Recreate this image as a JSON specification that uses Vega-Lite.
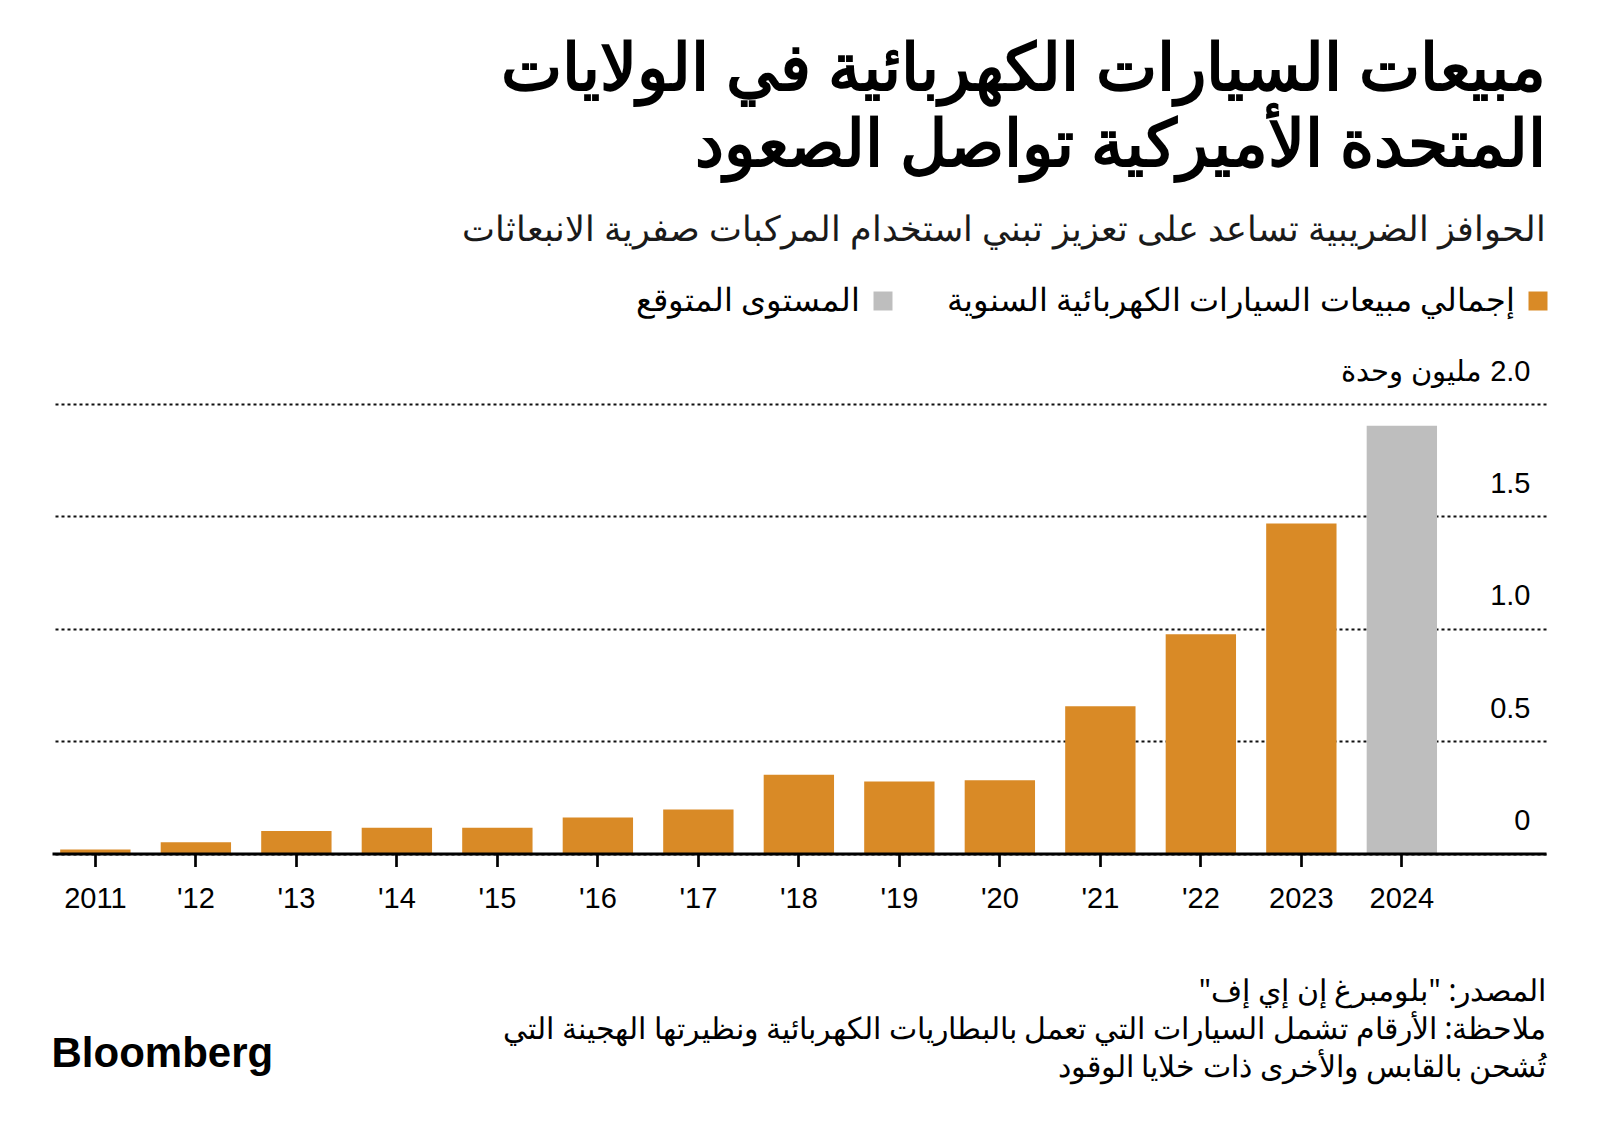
{
  "$schema": "https://vega.github.io/schema/vega-lite/v6.json",
  "width": 1494,
  "height": 449.5,
  "autosize": {"type": "none"},
  "padding": {"left": 52, "top": 404, "right": 54, "bottom": 280.5},
  "background": "white",
  "title": {
    "text": ["\u200Fمبيعات السيارات الكهربائية في الولايات\u200F", "\u200Fالمتحدة الأميركية تواصل الصعود\u200F"],
    "subtitle": "\u200Fالحوافز الضريبية تساعد على تعزيز تبني استخدام المركبات صفرية الانبعاثات\u200F",
    "anchor": "end",
    "align": "right",
    "frame": "group",
    "orient": "top",
    "font": "Noto Sans",
    "fontSize": 65,
    "fontWeight": "bold",
    "lineHeight": 76,
    "color": "#000000",
    "subtitleFont": "Noto Sans",
    "subtitleFontSize": 35,
    "subtitleColor": "#1a1a1a",
    "subtitlePadding": 33,
    "subtitleLineHeight": 40,
    "offset": 36
  },
  "data": {
    "values": [
      {"year": "2011", "sales": 0.018, "type": "إجمالي مبيعات السيارات الكهربائية السنوية"},
      {"year": "'12", "sales": 0.05, "type": "إجمالي مبيعات السيارات الكهربائية السنوية"},
      {"year": "'13", "sales": 0.1, "type": "إجمالي مبيعات السيارات الكهربائية السنوية"},
      {"year": "'14", "sales": 0.115, "type": "إجمالي مبيعات السيارات الكهربائية السنوية"},
      {"year": "'15", "sales": 0.115, "type": "إجمالي مبيعات السيارات الكهربائية السنوية"},
      {"year": "'16", "sales": 0.16, "type": "إجمالي مبيعات السيارات الكهربائية السنوية"},
      {"year": "'17", "sales": 0.196, "type": "إجمالي مبيعات السيارات الكهربائية السنوية"},
      {"year": "'18", "sales": 0.35, "type": "إجمالي مبيعات السيارات الكهربائية السنوية"},
      {"year": "'19", "sales": 0.32, "type": "إجمالي مبيعات السيارات الكهربائية السنوية"},
      {"year": "'20", "sales": 0.326, "type": "إجمالي مبيعات السيارات الكهربائية السنوية"},
      {"year": "'21", "sales": 0.655, "type": "إجمالي مبيعات السيارات الكهربائية السنوية"},
      {"year": "'22", "sales": 0.976, "type": "إجمالي مبيعات السيارات الكهربائية السنوية"},
      {"year": "2023", "sales": 1.468, "type": "إجمالي مبيعات السيارات الكهربائية السنوية"},
      {"year": "2024", "sales": 1.903, "type": "المستوى المتوقع"}
    ]
  },
  "mark": {"type": "bar"},
  "encoding": {
    "x": {
      "field": "year",
      "type": "ordinal",
      "sort": null,
      "scale": {"paddingInner": 0.3, "paddingOuter": 0.583, "align": 0.07},
      "axis": {
        "title": ["\u200Fالمصدر: \"بلومبرغ إن إي إف\"\u200F", "\u200Fملاحظة: الأرقام تشمل السيارات التي تعمل بالبطاريات الكهربائية ونظيرتها الهجينة التي\u200F", "\u200Fتُشحن بالقابس والأخرى ذات خلايا الوقود\u200F"],
        "titleAnchor": "end",
        "titleAlign": "right",
        "titleFont": "Noto Sans",
        "titleFontSize": 30,
        "titleFontWeight": "normal",
        "titleColor": "#000000",
        "titleLineHeight": 38,
        "titlePadding": 63,
        "labelAngle": 0,
        "labelFont": "Liberation Sans",
        "labelFontSize": 29,
        "labelColor": "#000000",
        "labelPadding": 18,
        "domainColor": "#000000",
        "domainWidth": 3,
        "tickColor": "#000000",
        "tickWidth": 2.7,
        "tickSize": 13,
        "zindex": 1
      }
    },
    "y": {
      "field": "sales",
      "type": "quantitative",
      "scale": {"domain": [0, 2], "nice": false},
      "axis": {
        "orient": "right",
        "values": [0, 0.5, 1, 1.5, 2],
        "labelExpr": "datum.value == 2 ? '\u200F2.0 مليون وحدة' : (datum.value == 0 ? '0' : format(datum.value, '.1f'))",
        "labelAlign": "right",
        "labelBaseline": "alphabetic",
        "labelPadding": -16,
        "labelOffset": -24,
        "labelLimit": 500,
        "labelFont": "Liberation Sans",
        "labelFontSize": 29,
        "labelColor": "#000000",
        "domain": false,
        "ticks": false,
        "grid": true,
        "gridColor": "#111111",
        "gridWidth": 1.8,
        "gridDash": [3, 3],
        "title": "Bloomberg",
        "titleAngle": 0,
        "titleAlign": "left",
        "titleBaseline": "alphabetic",
        "titleX": -1495,
        "titleY": 662,
        "titleFont": "Liberation Sans",
        "titleFontSize": 42,
        "titleFontWeight": 900,
        "titleColor": "#000000"
      }
    },
    "color": {
      "field": "type",
      "type": "nominal",
      "scale": {
        "domain": ["المستوى المتوقع", "إجمالي مبيعات السيارات الكهربائية السنوية"],
        "range": ["#bebebe", "#d98a26"]
      },
      "legend": {
        "orient": "none",
        "legendX": 815,
        "legendY": -119,
        "direction": "horizontal",
        "title": null,
        "symbolType": "square",
        "symbolSize": 361,
        "symbolStrokeWidth": 0,
        "symbolOpacity": 1,
        "labelFont": "Noto Sans",
        "labelFontSize": 32,
        "labelColor": "#000000",
        "labelAlign": "right",
        "labelOffset": -39,
        "labelLimit": 0,
        "columnPadding": 53
      }
    }
  },
  "config": {
    "view": {"stroke": null}
  }
}
